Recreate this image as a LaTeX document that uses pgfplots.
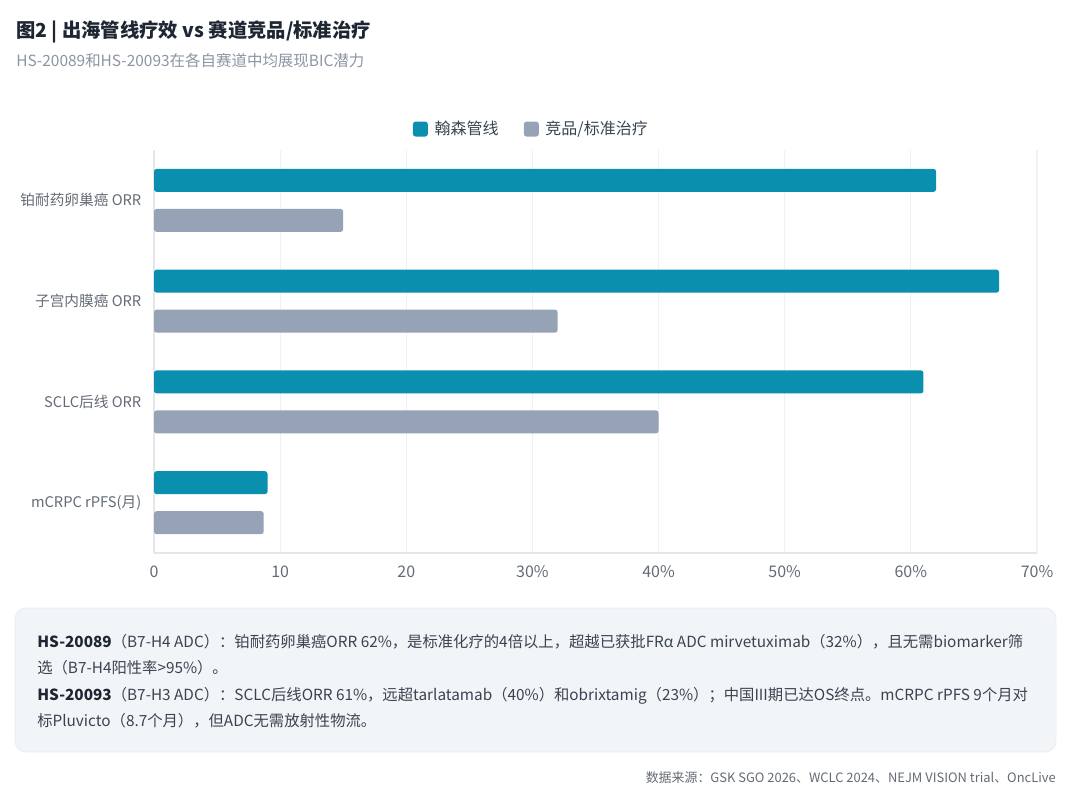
\documentclass[border=0pt]{standalone}
\usepackage{fontspec}
\setmainfont{Noto Sans CJK SC}
\usepackage{pgfplots}
\pgfplotsset{compat=1.18}
\definecolor{tealbar}{HTML}{0A8FAF}
\definecolor{graybar}{HTML}{96A2B6}
\definecolor{titlec}{HTML}{1E2633}
\definecolor{subc}{HTML}{8C95A3}
\definecolor{tickc}{HTML}{646B75}
\definecolor{gridc}{HTML}{EEF1F5}
\definecolor{axisc}{HTML}{E3E7EC}
\definecolor{boxbg}{HTML}{F2F5F8}
\definecolor{boxline}{HTML}{E6EAEF}
\definecolor{bodyc}{HTML}{3A4350}
\begin{document}
\begin{tikzpicture}
\begin{scope}[x=0.75pt,y=-0.75pt]
\path[use as bounding box] (0,0) rectangle (1080,803);
\node[anchor=base west, inner sep=0pt, text=titlec, font=\bfseries\fontsize{14.5}{16}\selectfont] at (16,37) {图2 | 出海管线疗效 vs 赛道竞品/标准治疗};
\node[anchor=base west, inner sep=0pt, text=subc, font=\fontsize{11.6}{13}\selectfont] at (16,66) {HS-20089和HS-20093在各自赛道中均展现BIC潜力};
\fill[boxbg, draw=boxline, rounded corners=8pt] (15,608) rectangle (1056,752);
\begin{scope}[every node/.style={anchor=base west, inner sep=0pt, text=bodyc, font=\fontsize{11.5}{13}\selectfont}]
\node at (37,647) {\textbf{\color{titlec}HS-20089}（B7-H4 ADC）：铂耐药卵巢癌ORR 62\%，是标准化疗的4倍以上，超越已获批FRα ADC mirvetuximab（32\%），且无需biomarker筛};
\node at (37,673) {选（B7-H4阳性率>95\%）。};
\node at (37,700) {\textbf{\color{titlec}HS-20093}（B7-H3 ADC）：SCLC后线ORR 61\%，远超tarlatamab（40\%）和obrixtamig（23\%）；中国III期已达OS终点。mCRPC rPFS 9个月对};
\node at (37,726) {标Pluvicto（8.7个月），但ADC无需放射性物流。};
\end{scope}
\node[anchor=base east, inner sep=0pt, text=tickc, font=\fontsize{9.7}{11}\selectfont] at (1056,782) {数据来源：GSK SGO 2026、WCLC 2024、NEJM VISION trial、OncLive};
\end{scope}
\begin{axis}[
  at={(115.5pt,-414.75pt)}, anchor=south west,
  scale only axis, width=662.25pt, height=302.25pt,
  xbar, bar width=17.25pt,
  xmin=0, xmax=70, ymin=-0.5, ymax=3.5, y dir=reverse,
  ytick={0,1,2,3},
  yticklabels={铂耐药卵巢癌 ORR,子宫内膜癌 ORR,SCLC后线 ORR,mCRPC rPFS(月)},
  xtick={0,10,20,30,40,50,60,70},
  xticklabels={0,10,20,30\%,40\%,50\%,60\%,70\%},
  major tick length=0pt,
  xmajorgrids, grid style={gridc, line width=0.8pt},
  axis line style={axisc, line width=0.8pt},
  axis x line*=bottom, axis y line*=left,
  ticklabel style={text=tickc, font=\fontsize{12}{14}\selectfont},
  yticklabel style={font=\fontsize{11}{13}\selectfont, xshift=-6pt},
  xticklabel style={yshift=-6pt},
  legend columns=2,
  legend style={at={(0.43,1.052)}, anchor=center, draw=none, fill=none,
    font=\fontsize{12}{14}\selectfont, text=bodyc,
    nodes={inner xsep=5pt},
    /tikz/every even column/.append style={column sep=14pt}},
  legend image code/.code={\fill[#1] (0pt,-5.6pt) rectangle (11.2pt,5.6pt);},
]
\addplot[fill=tealbar, draw=none, rounded corners=2pt, bar shift=15pt] coordinates {(62,0) (67,1) (61,2) (9,3)};
\addlegendentry{翰森管线}
\addplot[fill=graybar, draw=none, rounded corners=2pt, bar shift=-15pt] coordinates {(15,0) (32,1) (40,2) (8.7,3)};
\addlegendentry{竞品/标准治疗}
\end{axis}
\end{tikzpicture}
\end{document}
